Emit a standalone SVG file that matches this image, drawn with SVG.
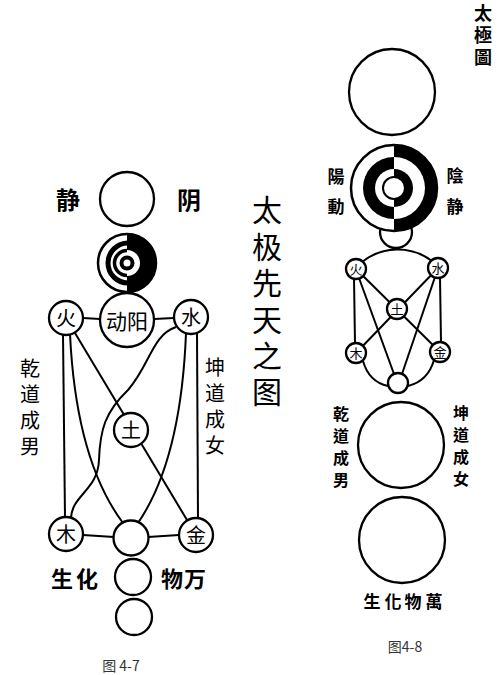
<svg xmlns="http://www.w3.org/2000/svg" width="500" height="675" viewBox="0 0 500 675">
<style>
.n{fill:#fff;stroke:#000;stroke-width:2.3}
.c{fill:none;stroke:#000;stroke-width:2}
.t{font-family:"Noto Sans CJK SC","Noto Sans CJK TC",sans-serif;text-anchor:middle;dominant-baseline:central;fill:#000}
.tc{font-family:"Noto Sans CJK TC","Noto Sans CJK SC",sans-serif;text-anchor:middle;dominant-baseline:central;fill:#000}
.v{font-family:"Noto Sans CJK SC","Noto Sans CJK TC",sans-serif;writing-mode:vertical-rl;text-anchor:start;fill:#000}
.vc{font-family:"Noto Sans CJK TC","Noto Sans CJK SC",sans-serif;writing-mode:vertical-rl;text-anchor:start;fill:#000;font-weight:600}
.cap{font-family:"Noto Sans CJK SC",sans-serif;font-size:14px;fill:#333;text-anchor:middle}
</style>
<rect width="500" height="675" fill="#fff"/>

<!-- LEFT FIGURE connectors -->
<g id="left-connectors" class="c">
  <line x1="83" y1="318" x2="100" y2="319"/>
  <line x1="154" y1="319" x2="174" y2="318"/>
  <line x1="83" y1="535" x2="114" y2="537"/>
  <line x1="148" y1="537" x2="179" y2="535"/>
  <line x1="63" y1="334" x2="65" y2="518"/>
  <line x1="197" y1="333" x2="198" y2="519"/>
  <line x1="66" y1="318" x2="196" y2="535"/>
  <path d="M70,334 Q76,460 123,523"/>
  <path d="M186,333 Q181,460 138,523"/>
  <path d="M176,327 C152,335 150,365 128,390 C105,412 100,430 99,460 C98,490 72,495 71,518"/>
</g>

<!-- LEFT FIGURE nodes -->
<g id="l-top"><circle class="n" cx="127" cy="199" r="27"/></g>
<g id="l-spiral">
  <circle cx="127" cy="263" r="29" fill="#fff"/>
  <path d="M127,234 A29,29 0 0 1 127,292 Z" fill="#000"/>
  <path d="M127,250 A13,13 0 0 1 127,276 Z" fill="#fff"/>
  <path d="M128,243 A20,20 0 0 0 128,283" fill="none" stroke="#000" stroke-width="5"/>
  <path d="M127,250.5 A12.5,12.5 0 0 0 127,275.5" fill="none" stroke="#000" stroke-width="3.5"/>
  <circle cx="127" cy="263" r="7.5" fill="#000"/>
  <circle cx="127" cy="263" r="3.5" fill="#fff"/>
  <circle cx="127" cy="263" r="29" fill="none" stroke="#000" stroke-width="2.5"/>
</g>
<g id="l-huo"><circle class="n" cx="66" cy="318" r="17"/><text class="t" x="66" y="317" font-size="20">火</text></g>
<g id="l-dongyang"><circle class="n" cx="127" cy="320" r="27"/><text class="t" x="127" y="320" font-size="21">动阳</text></g>
<g id="l-shui"><circle class="n" cx="191" cy="317" r="17"/><text class="t" x="191" y="316" font-size="20">水</text></g>
<g id="l-tu"><circle class="n" cx="131" cy="430" r="17"/><text class="t" x="131" y="429" font-size="20">土</text></g>
<g id="l-mu"><circle class="n" cx="66" cy="534" r="17"/><text class="t" x="66" y="533" font-size="20">木</text></g>
<g id="l-mid"><circle class="n" cx="131" cy="538" r="17.5"/></g>
<g id="l-jin"><circle class="n" cx="196" cy="535" r="17"/><text class="t" x="196" y="534" font-size="20">金</text></g>
<g id="l-c1"><circle class="n" cx="133" cy="577" r="18"/></g>
<g id="l-c2"><circle class="n" cx="134" cy="617" r="18"/></g>

<!-- LEFT labels -->
<g id="l-labels">
  <text class="t" x="68" y="198" font-size="24" font-weight="600">静</text>
  <text class="t" x="189" y="198" font-size="24" font-weight="600">阴</text>
  <text class="v" x="30" y="358" font-size="20" letter-spacing="6">乾道成男</text>
  <text class="v" x="215" y="357" font-size="20" letter-spacing="6.3">坤道成女</text>
  <text class="t" font-size="22" font-weight="600"><tspan x="62" y="577">生</tspan><tspan x="87" y="577">化</tspan></text>
  <text class="t" font-size="22" font-weight="600"><tspan x="172" y="577">物</tspan><tspan x="195" y="577">万</tspan></text>
  <text class="v" x="267" y="195" font-size="30" letter-spacing="6.4">太极先天之图</text>
  <text class="cap" x="121" y="671">图 4-7</text>
</g>

<!-- RIGHT FIGURE connectors -->
<g id="right-connectors" class="c">
  <path d="M362,262 A57,57 0 0 1 432,261"/>
  <path d="M363,361 Q369,382 388,386"/>
  <path d="M434,360 Q428,381 408,386"/>
  <line x1="354" y1="278" x2="355" y2="344"/>
  <line x1="440" y1="277" x2="441" y2="343"/>
  <line x1="359" y1="278" x2="394" y2="374"/>
  <line x1="435" y1="277" x2="402" y2="374"/>
  <line x1="356" y1="269" x2="440" y2="352"/>
  <line x1="438" y1="268" x2="356" y2="353"/>
</g>

<!-- RIGHT nodes -->
<g id="r-top"><circle class="n" cx="392" cy="92" r="43"/></g>
<g id="r-small"><circle class="n" cx="396" cy="232" r="16"/></g>
<g id="r-taiji">
  <circle cx="394" cy="188" r="43" fill="#fff"/>
  <path d="M394,145 A43,43 0 0 1 394,231 Z" fill="#000"/>
  <path d="M394,157 A31,31 0 0 0 394,219 Z" fill="#000"/>
  <path d="M394,157 A31,31 0 0 1 394,219 Z" fill="#fff"/>
  <path d="M394,169 A19,19 0 0 0 394,207 Z" fill="#fff"/>
  <path d="M394,169 A19,19 0 0 1 394,207 Z" fill="#000"/>
  <circle cx="394" cy="188" r="11" fill="#fff" stroke="#000" stroke-width="2"/>
  <circle cx="394" cy="188" r="43" fill="none" stroke="#000" stroke-width="2.5"/>
</g>
<g id="r-huo"><circle class="n" cx="356" cy="269" r="10"/><text class="t" x="356" y="268" font-size="13">火</text></g>
<g id="r-shui"><circle class="n" cx="438" cy="268" r="10"/><text class="t" x="438" y="267" font-size="13">水</text></g>
<g id="r-tu"><circle class="n" cx="397" cy="309" r="10"/><text class="t" x="397" y="308" font-size="13">土</text></g>
<g id="r-mu"><circle class="n" cx="356" cy="353" r="10"/><text class="t" x="356" y="352" font-size="13">木</text></g>
<g id="r-jin"><circle class="n" cx="440" cy="352" r="10"/><text class="t" x="440" y="351" font-size="13">金</text></g>
<g id="r-bottom"><circle class="n" cx="398" cy="383" r="10"/></g>
<g id="r-qian"><circle class="n" cx="401" cy="445" r="43"/></g>
<g id="r-sheng"><circle class="n" cx="402" cy="540" r="43"/></g>

<!-- RIGHT labels -->
<g id="r-labels">
  <text class="vc" x="483" y="4" font-size="18" letter-spacing="4">太極圖</text>
  <text class="vc" x="336" y="168.5" font-size="17" letter-spacing="13">陽動</text>
  <text class="vc" x="455" y="167.5" font-size="17" letter-spacing="14">陰静</text>
  <text class="vc" x="341" y="406" font-size="16" letter-spacing="6">乾道成男</text>
  <text class="vc" x="461" y="405" font-size="16" letter-spacing="6">坤道成女</text>
  <text class="tc" font-size="17" font-weight="bold"><tspan x="372" y="600">生</tspan><tspan x="393" y="600">化</tspan><tspan x="413" y="600">物</tspan><tspan x="434" y="600">萬</tspan></text>
  <text class="cap" x="405" y="652">图4-8</text>
</g>
</svg>
